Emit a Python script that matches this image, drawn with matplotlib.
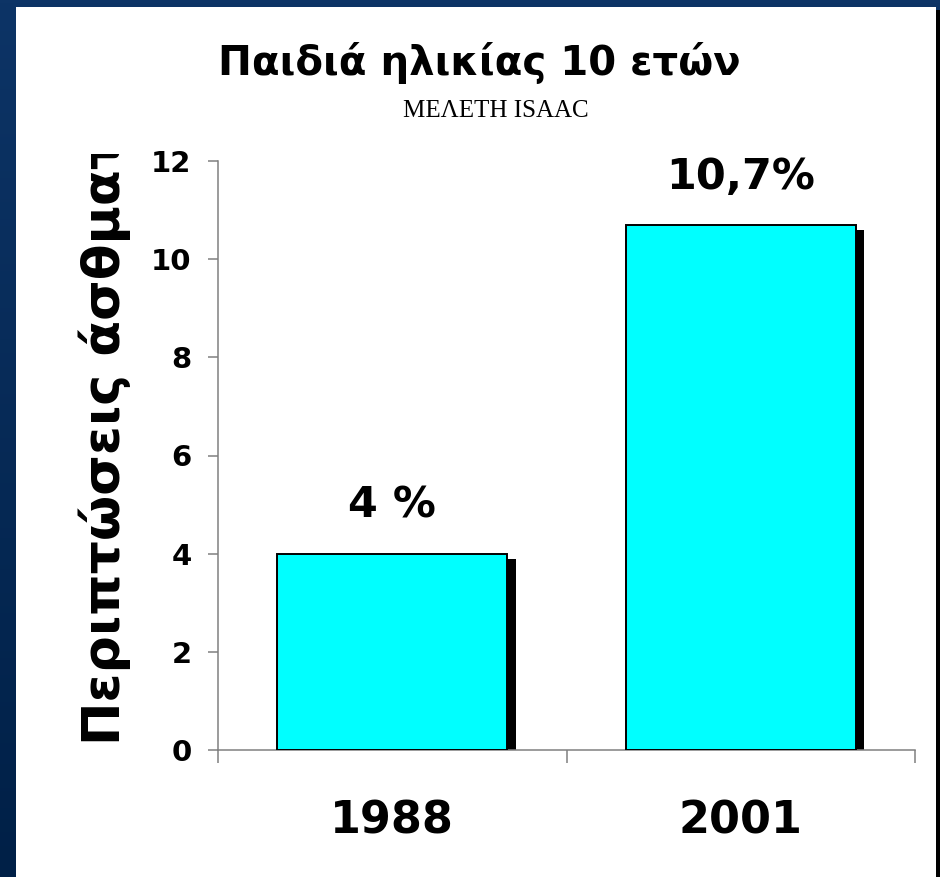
import numpy as np
import matplotlib
matplotlib.use("Agg")
from matplotlib import pyplot as plt
from matplotlib.patches import Rectangle

years = ["1988", "2001"]
rates = [4.0, 10.7]
bar_labels = ["4 %", "10,7%"]
yticks = [0, 2, 4, 6, 8, 10, 12]
title = "Παιδιά ηλικίας 10 ετών"
subtitle = "ΜΕΛΕΤΗ ISAAC"
ylabel = "Περιπτώσεις άσθματ"

W, H = 940, 877
fig = plt.figure(figsize=(W / 100, H / 100), dpi=100)

# dark blue slide background with a soft vertical gradient, white panel on top
bg = fig.add_axes([0, 0, 1, 1], zorder=-1)
grad = np.linspace(0, 1, 256).reshape(-1, 1)
cmap = matplotlib.colors.LinearSegmentedColormap.from_list("bg", ["#0d3466", "#002047"])
bg.imshow(grad, aspect="auto", cmap=cmap, extent=[0, 1, 0, 1])
bg.add_patch(Rectangle((936 / W, 0), 4 / W, 1 - 10 / H, facecolor="black", edgecolor="none"))
bg.add_patch(Rectangle((16 / W, 0), 920 / W, 1 - 7 / H, facecolor="white", edgecolor="none"))
bg.set_xlim(0, 1)
bg.set_ylim(0, 1)
bg.set_axis_off()

ax = fig.add_axes([218 / W, 1 - 750 / H, (915 - 218) / W, (750 - 161) / H])
ax.set_facecolor("none")
x = np.arange(len(years))

# shadow bars then cyan bars
ax.bar(x + 0.025, rates, width=0.66, bottom=-0.1, color="black", zorder=2)
ax.bar(x, rates, width=0.66, color="#00ffff", edgecolor="black", linewidth=1.4, zorder=3)

for xi, v, lab in zip(x, rates, bar_labels):
    ax.text(xi, v + 0.55, lab, ha="center", va="bottom", fontsize=31,
            fontweight="bold", family="DejaVu Sans")

ax.set_xlim(-0.5, 1.5)
ax.set_ylim(0, 12)
ax.set_yticks(yticks)
ax.set_yticklabels([str(t) for t in yticks], fontsize=21, fontweight="bold", family="DejaVu Sans")
ax.set_xticks([-0.5, 0.5, 1.5])
ax.set_xticklabels(["", "", ""])
ax.set_xticks(x, minor=True)
ax.set_xticklabels(years, minor=True, fontsize=32, fontweight="bold", family="DejaVu Sans")
ax.tick_params(axis="x", which="major", length=9.5, width=1.1, color="#808080", direction="out")
ax.tick_params(axis="x", which="minor", length=0, pad=36)
ax.tick_params(axis="y", length=7, width=1.1, color="#808080", direction="out", pad=12)

for s in ["top", "right"]:
    ax.spines[s].set_visible(False)
for s in ["left", "bottom"]:
    ax.spines[s].set_color("#808080")
    ax.spines[s].set_linewidth(1.1)

fig.text(479 / W, 1 - 63 / H, title, ha="center", va="center", fontsize=29,
         fontweight="bold", family="DejaVu Sans")
fig.text(496 / W, 1 - 111 / H, subtitle, ha="center", va="center", fontsize=18,
         family="Liberation Serif")

# label is cut through the last letter, as in the original slide
yl = fig.text(105 / W, 1 - 745 / H, ylabel, ha="center", va="bottom", rotation=90,
              fontsize=37.5, fontweight="bold", family="DejaVu Sans")
clip = Rectangle((0, 0), 1, 1 - 154 / H, transform=fig.transFigure)
yl.set_clip_path(clip)

fig.savefig("out.png", dpi=100)
